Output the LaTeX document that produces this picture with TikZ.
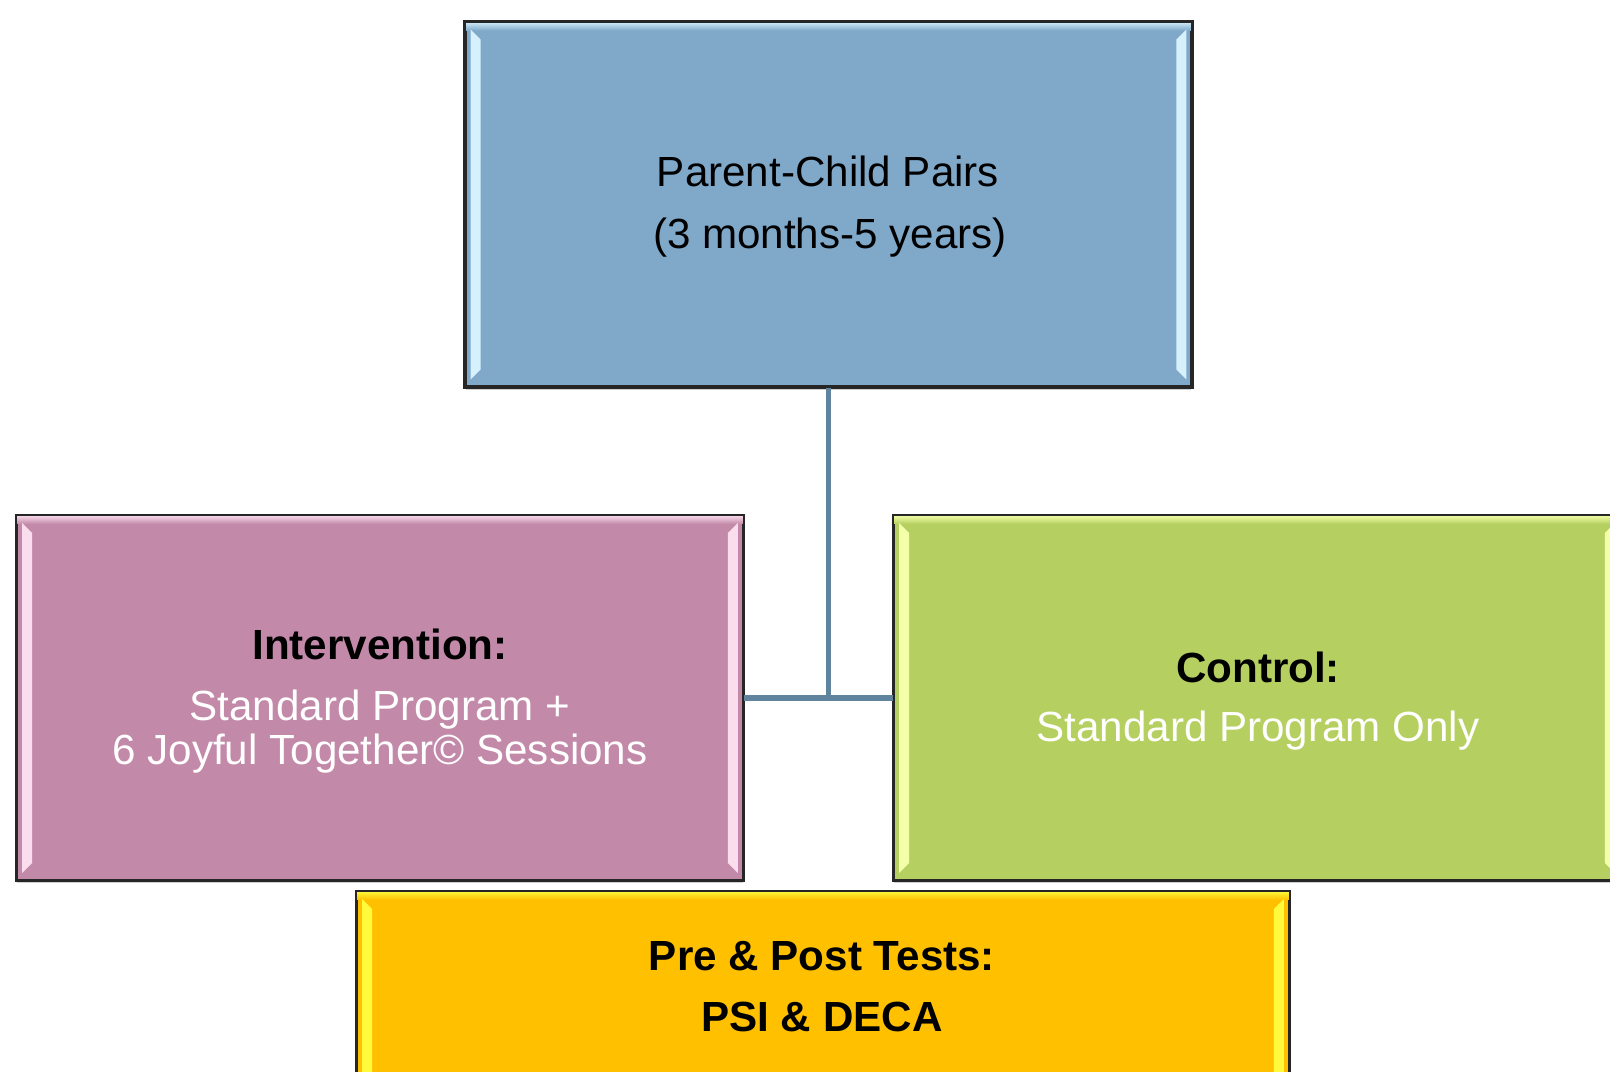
\documentclass[tikz,border=0pt]{standalone}
\usepackage{fontspec}
\setmainfont{Liberation Sans}
\definecolor{PairBlue}{RGB}{127, 168, 201}
\definecolor{PairLight}{RGB}{214, 240, 252}
\definecolor{ArmPink}{RGB}{195, 137, 169}
\definecolor{ArmPinkLight}{RGB}{250, 222, 238}
\definecolor{ArmGreen}{RGB}{181, 208, 96}
\definecolor{ArmGreenLight}{RGB}{244, 255, 170}
\definecolor{TestGold}{RGB}{255, 192, 0}
\definecolor{TestGoldLight}{RGB}{255, 250, 60}
\definecolor{LinkBlue}{RGB}{96, 131, 158}
\usetikzlibrary{positioning, calc, shadows}

% light strips down both sides of a box, and a soft band along its top
\newcommand{\bevel}[3]{%
  \shade[top color=#2, bottom color=#3] (#1.north west) rectangle ($(#1.north east)+(0,9)$);
  \fill[#2] ($(#1.north west)+(6,8)$) -- ($(#1.north west)+(16,18)$) -- ($(#1.south west)+(16,-18)$) -- ($(#1.south west)+(6,-8)$) -- cycle;
  \fill[#2] ($(#1.north east)+(-6,8)$) -- ($(#1.north east)+(-16,18)$) -- ($(#1.south east)+(-16,-18)$) -- ($(#1.south east)+(-6,-8)$) -- cycle;
  \draw[black!85, line width=1.2pt] (#1.north west) rectangle (#1.south east);
}

\begin{document}
\begin{tikzpicture}[x=0.02cm, y=-0.02cm,
    box/.style={draw=black!85, line width=1.2pt, inner sep=0pt,
      minimum width=14.52cm, minimum height=7.28cm,
      drop shadow={shadow xshift=0pt, shadow yshift=-2pt, opacity=0.3, fill=black!60}},
    link/.style={draw=LinkBlue, line width=3.4pt},
    txt/.style={font=\fontsize{24}{28}\selectfont, anchor=base, inner sep=0pt},
    head/.style={txt, font=\fontsize{24}{28}\selectfont\bfseries},
    sub/.style={txt, text=white}]
  \path[use as bounding box] (0,0) rectangle (1610,1072);
  \clip (0,0) rectangle (1610,1072);

  % boxes
  \node[box, fill=PairBlue] (pairs) at (828.5,204.5) {};
  \node[box, fill=ArmPink] (intervention) at (380,698) {};
  \node[box, fill=ArmGreen] (control) at (1257,698) {};
  \node[box, fill=TestGold, minimum width=18.64cm] (tests) at (823,1074) {};
  \bevel{pairs}{PairLight}{PairBlue}
  \bevel{intervention}{ArmPinkLight}{ArmPink}
  \bevel{control}{ArmGreenLight}{ArmGreen}
  \bevel{tests}{TestGoldLight}{TestGold}

  % connectors
  \coordinate (split) at (pairs.south |- control.west);
  \draw[link] (pairs.south) -- (split);
  \draw[link] (intervention.east) -- (control.west);

  % texts
  \node[txt] (pairsA) at (828,186) {Parent-Child Pairs};
  \node[txt] (pairsB) at (830,248) {(3 months-5 years)};

  \node[head] (interventionA) at (380,659) {Intervention:};
  \node[sub] (interventionB) at (380,720) {Standard Program +};
  \node[sub] (interventionC) at (380,764) {6 Joyful Together© Sessions};

  \node[head] (controlA) at (1258,682) {Control:};
  \node[sub] (controlB) at (1258,741) {Standard Program Only};

  \node[head] (testsA) at (822,970) {Pre \& Post Tests:};
  \node[head] (testsB) at (822,1031) {PSI \& DECA};
\end{tikzpicture}
\end{document}
